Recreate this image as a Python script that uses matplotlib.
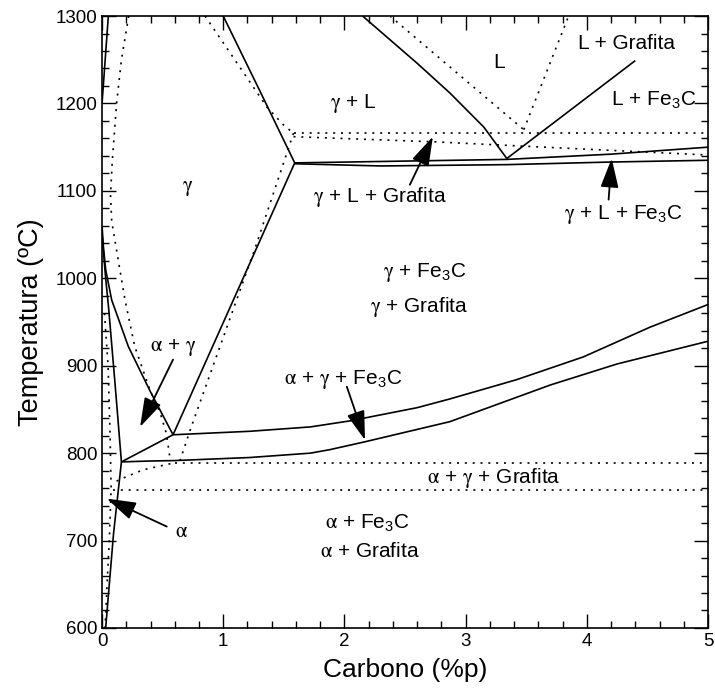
import matplotlib
matplotlib.use("Agg")
import matplotlib.pyplot as plt
from matplotlib.ticker import MultipleLocator

plt.rcParams['font.family'] = ['Liberation Sans', 'DejaVu Sans']
plt.rcParams['mathtext.fontset'] = 'custom'
plt.rcParams['mathtext.rm'] = 'Liberation Sans'
plt.rcParams['mathtext.it'] = 'STIXGeneral'
plt.rcParams['mathtext.sf'] = 'STIXGeneral'

# ---- solid (Fe-Fe3C) boundaries ----
liq_left_x = [1.0, 1.3, 1.59]
liq_left_y = [1300, 1215, 1132]
acm_x = [1.59, 0.586]
acm_y = [1132, 821]
a3_x = [0.0, 0.012, 0.03, 0.08, 0.217, 0.4, 0.586]
a3_y = [1060, 1035, 1010, 975, 922, 870, 821]
alpha_x = [0.0, 0.03, 0.055, 0.107, 0.16]
alpha_y = [1050, 1000, 965, 880, 790]
solvus_x = [0.16, 0.095, 0.03]
solvus_y = [790, 708, 600]
delta_x = [0.052, 0.0]
delta_y = [1300, 1200]
tie_x = [0.586, 0.16]
tie_y = [821, 790]
eut_up_x = [0.586, 1.22, 1.72, 2.05, 2.6, 2.87, 3.42, 3.97, 4.52, 5.0]
eut_up_y = [821, 825, 830, 837, 852, 862, 884, 910, 944, 970]
eut_lo_x = [0.16, 0.4, 0.6, 1.22, 1.72, 1.88, 2.17, 2.87, 3.7, 4.25, 5.0]
eut_lo_y = [790, 791, 791.5, 795, 800, 804, 813, 836, 878, 902, 928]
liq_right_x = [2.15, 2.6, 2.87, 3.15, 3.34]
liq_right_y = [1300, 1246, 1212, 1173, 1137]
liq_fe3c_x = [3.34, 4.40]
liq_fe3c_y = [1137, 1249]
eutec_up_x = [1.59, 3.34, 4.2, 5.0]
eutec_up_y = [1132, 1136, 1142, 1150]
eutec_lo_x = [1.59, 2.3, 3.34, 4.2, 5.0]
eutec_lo_y = [1131, 1128.5, 1130, 1133, 1135]

# ---- dotted (Fe-graphite) boundaries ----
gliq_left_x = [0.85, 1.36, 1.50, 1.58]
gliq_left_y = [1300, 1196, 1175, 1166]
geut_a_x = [1.58, 5.0]
geut_a_y = [1166.5, 1166.5]
geut_b_x = [1.58, 2.76, 3.5, 5.0]
geut_b_y = [1162, 1156, 1151, 1141]
gacm_x = [1.58, 1.262, 0.726, 0.64]
gacm_y = [1166, 1034, 826, 790]
gliq_right_x = [2.376, 3.48]
gliq_right_y = [1300, 1170]
ggraph_x = [3.48, 3.85]
ggraph_y = [1170, 1300]
ggam_x = [0.22, 0.16, 0.12, 0.085, 0.07, 0.08, 0.12, 0.19, 0.27, 0.396, 0.48, 0.53, 0.56]
ggam_y = [1300, 1250, 1200, 1135, 1095, 1065, 1032, 975, 922, 872, 846, 823, 795]
galpha_x = [0.02, 0.05, 0.066, 0.075, 0.06, 0.045, 0.025]
galpha_y = [960, 900, 823, 760, 700, 660, 600]
gcurve_x = [0.12, 0.2, 0.34, 0.6]
gcurve_y = [768, 773, 781, 789]
g789_x = [0.6, 5.0]
g789_y = [789, 789]
g758_x = [0.09, 5.0]
g758_y = [758, 758]

FE3C = r'Fe$_{\mathrm{3}}$C'
G = r'$\gamma$'
A = r'$\alpha$'

labels = [
    ('L', 3.28, 1247),
    ('L + Grafita', 4.33, 1269),
    ('L + ' + FE3C, 4.55, 1204),
    (G + ' + L', 2.07, 1200),
    (G, 0.71, 1103),
    (G + ' + L + Grafita', 2.29, 1093),
    (G + ' + L + ' + FE3C, 4.30, 1073),
    (G + ' + ' + FE3C, 2.66, 1007),
    (G + ' + Grafita', 2.62, 967),
    (A + ' + ' + G, 0.59, 921),
    (A + ' + ' + G + ' + ' + FE3C, 1.99, 884),
    (A + ' + ' + G + ' + Grafita', 3.23, 771),
    (A + ' + ' + FE3C, 2.19, 721),
    (A + ' + Grafita', 2.21, 687),
    (A, 0.66, 710),
]

arrows = [  # (tail_x, tail_y, head_x, head_y)
    (2.54, 1107, 2.73, 1162),
    (4.18, 1090, 4.205, 1137),
    (0.586, 907, 0.314, 830),
    (2.02, 876, 2.17, 815),
    (0.534, 716, 0.039, 748),
]

fig = plt.figure(figsize=(7.15, 6.91), dpi=100)
ax = fig.add_axes([0.1427, 0.0912, 0.8475, 0.8856])

solid = [(liq_left_x, liq_left_y), (acm_x, acm_y), (a3_x, a3_y), (alpha_x, alpha_y),
         (solvus_x, solvus_y), (delta_x, delta_y), (tie_x, tie_y),
         (eut_up_x, eut_up_y), (eut_lo_x, eut_lo_y), (liq_right_x, liq_right_y),
         (liq_fe3c_x, liq_fe3c_y), (eutec_up_x, eutec_up_y), (eutec_lo_x, eutec_lo_y)]
for xs, ys in solid:
    ax.plot(xs, ys, color='black', lw=1.2, solid_capstyle='butt', solid_joinstyle='round')

dotted = [(gliq_left_x, gliq_left_y), (geut_a_x, geut_a_y), (geut_b_x, geut_b_y),
          (gacm_x, gacm_y), (gliq_right_x, gliq_right_y), (ggraph_x, ggraph_y),
          (ggam_x, ggam_y), (galpha_x, galpha_y), (gcurve_x, gcurve_y),
          (g789_x, g789_y), (g758_x, g758_y)]
for xs, ys in dotted:
    ax.plot(xs, ys, color='black', lw=1.2, linestyle=(0, (1.2, 3.5)))

for txt, x, y in labels:
    ax.text(x, y, txt, fontsize=15, ha='center', va='center', color='black')

for tx, ty, hx, hy in arrows:
    ax.annotate('', xy=(hx, hy), xytext=(tx, ty),
                arrowprops=dict(arrowstyle='-|>,head_length=0.9,head_width=0.28',
                                color='black', lw=1.3, mutation_scale=20,
                                shrinkA=0, shrinkB=0))

ax.set_xlim(0, 5)
ax.set_ylim(600, 1300)
ax.xaxis.set_major_locator(MultipleLocator(1))
ax.xaxis.set_minor_locator(MultipleLocator(0.2))
ax.yaxis.set_major_locator(MultipleLocator(100))
ax.yaxis.set_minor_locator(MultipleLocator(20))
ax.tick_params(which='both', direction='in', top=True, right=True, labelsize=13.5, width=1.0)
ax.tick_params(which='major', length=10)
ax.tick_params(which='minor', length=5)
for s in ax.spines.values():
    s.set_linewidth(1.2)

ax.set_xlabel('Carbono (%p)', fontsize=19, labelpad=6)
ax.set_ylabel('Temperatura (ºC)', fontsize=19.5, labelpad=8)

fig.savefig('out.png', dpi=100)
